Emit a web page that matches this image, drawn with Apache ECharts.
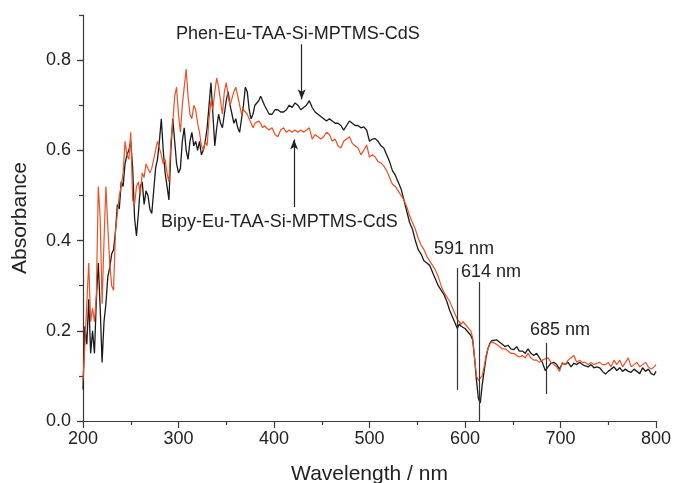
<!DOCTYPE html>
<html>
<head>
<meta charset="utf-8">
<script src="https://cdn.jsdelivr.net/npm/echarts@6/dist/echarts.min.js"></script>
<style>
html,body{margin:0;padding:0;background:#fff;}
#c{width:674px;height:483px;}
</style>
</head>
<body>
<div id="c"></div>
<script>
// Wavelength (nm)
var wavelengths = [
200,202,204,206,208,210,212,214,216,218,220,222,224,226,228,230,232,234,236,238,
240,242,244,246,248,250,252,254,256,258,260,262,264,266,268,270,272,274,276,278,
280,282,284,286,288,290,292,294,296,298,300,302,304,306,308,310,312,314,316,318,
320,322,324,326,328,330,332,334,336,338,340,342,344,346,348,350,352,354,356,358,
360,362,364,366,368,370,372,374,376,378,380,382,384,386,388,390,392,395,398,401,
404,407,410,413,416,419,422,425,428,431,434,437,440,443,446,449,452,455,458,461,
464,467,470,473,476,479,482,485,488,491,494,497,500,503,506,509,512,515,518,521,
524,527,530,533,536,539,542,545,548,551,554,557,560,563,566,569,572,575,578,581,
584,587,590,592,594,596,598,600,602,604,606,608,610,612,614,616,618,620,622,624,
626,628,630,633,636,639,642,645,648,651,654,657,660,663,666,669,672,675,678,681,
684,687,690,693,696,699,702,705,708,711,714,717,720,723,726,729,732,735,738,741,
744,747,750,753,756,759,762,765,768,771,774,777,780,783,786,789,792,795,798,800];

// Phen-Eu-TAA-Si-MPTMS-CdS (black)
var phen = [
0.07,0.21,0.17,0.27,0.15,0.20,0.15,0.27,0.35,0.25,0.13,0.22,0.26,0.32,0.34,0.37,0.38,0.42,0.48,0.47,
0.53,0.52,0.57,0.59,0.60,0.62,0.56,0.45,0.41,0.46,0.52,0.53,0.48,0.51,0.50,0.47,0.46,0.46,0.56,0.58,
0.62,0.67,0.60,0.55,0.52,0.49,0.60,0.67,0.62,0.57,0.55,0.56,0.62,0.65,0.60,0.58,0.62,0.64,0.61,0.62,
0.60,0.62,0.59,0.60,0.62,0.65,0.70,0.75,0.68,0.61,0.65,0.68,0.66,0.65,0.68,0.71,0.73,0.70,0.68,0.66,
0.67,0.65,0.64,0.67,0.70,0.74,0.73,0.69,0.67,0.68,0.70,0.70,0.71,0.72,0.71,0.70,0.70,0.68,0.68,0.69,
0.69,0.685,0.685,0.69,0.70,0.695,0.705,0.70,0.69,0.695,0.70,0.71,0.695,0.685,0.68,0.675,0.67,0.665,0.67,0.665,
0.66,0.66,0.655,0.645,0.655,0.665,0.66,0.655,0.655,0.65,0.652,0.645,0.62,0.625,0.626,0.62,0.61,0.605,0.59,0.575,
0.555,0.545,0.53,0.515,0.49,0.465,0.44,0.425,0.40,0.38,0.37,0.355,0.35,0.345,0.33,0.315,0.30,0.29,0.28,0.265,
0.245,0.23,0.215,0.205,0.215,0.21,0.21,0.205,0.20,0.198,0.19,0.18,0.14,0.09,0.05,0.04,0.08,0.11,0.14,0.16,
0.172,0.178,0.18,0.18,0.175,0.17,0.165,0.168,0.16,0.158,0.165,0.155,0.155,0.15,0.16,0.15,0.145,0.15,0.14,0.13,
0.112,0.12,0.128,0.13,0.125,0.115,0.128,0.125,0.13,0.12,0.128,0.125,0.13,0.125,0.122,0.12,0.125,0.118,0.12,0.118,
0.11,0.104,0.11,0.115,0.12,0.112,0.118,0.11,0.115,0.11,0.108,0.115,0.11,0.105,0.118,0.11,0.115,0.105,0.102,0.11];

// Bipy-Eu-TAA-Si-MPTMS-CdS (orange)
var bipy = [
0.09,0.17,0.26,0.35,0.22,0.25,0.22,0.28,0.52,0.45,0.26,0.40,0.52,0.43,0.35,0.30,0.29,0.42,0.46,0.50,
0.52,0.55,0.62,0.59,0.58,0.64,0.49,0.48,0.52,0.53,0.50,0.55,0.54,0.57,0.57,0.55,0.56,0.58,0.60,0.62,
0.62,0.59,0.57,0.58,0.55,0.53,0.62,0.66,0.72,0.74,0.68,0.64,0.70,0.74,0.78,0.72,0.68,0.67,0.70,0.69,
0.66,0.64,0.61,0.60,0.62,0.61,0.67,0.71,0.69,0.73,0.76,0.74,0.71,0.68,0.73,0.75,0.72,0.70,0.70,0.73,
0.74,0.72,0.70,0.68,0.69,0.69,0.68,0.67,0.66,0.65,0.66,0.66,0.665,0.66,0.65,0.655,0.65,0.645,0.65,0.635,
0.63,0.645,0.65,0.64,0.645,0.64,0.645,0.64,0.645,0.64,0.645,0.65,0.625,0.635,0.63,0.625,0.63,0.64,0.635,0.62,
0.625,0.61,0.605,0.62,0.625,0.63,0.615,0.61,0.605,0.59,0.60,0.612,0.585,0.59,0.585,0.575,0.572,0.565,0.555,0.54,
0.525,0.52,0.51,0.50,0.49,0.475,0.455,0.44,0.425,0.405,0.39,0.38,0.365,0.355,0.345,0.335,0.32,0.30,0.285,0.275,
0.265,0.25,0.235,0.225,0.22,0.215,0.22,0.215,0.21,0.205,0.20,0.185,0.14,0.10,0.09,0.09,0.10,0.12,0.145,0.16,
0.17,0.176,0.175,0.17,0.165,0.16,0.16,0.155,0.15,0.15,0.145,0.142,0.145,0.14,0.15,0.14,0.135,0.135,0.13,0.135,
0.138,0.14,0.13,0.125,0.12,0.11,0.13,0.125,0.135,0.14,0.145,0.13,0.135,0.13,0.13,0.125,0.13,0.125,0.128,0.13,
0.125,0.125,0.13,0.12,0.135,0.125,0.135,0.12,0.13,0.14,0.12,0.125,0.13,0.12,0.125,0.13,0.12,0.115,0.12,0.125];

var xTicks = [200, 300, 400, 500, 600, 700, 800];
var yTicks = [0.0, 0.2, 0.4, 0.6, 0.8];

var phenData = wavelengths.map(function (w, i) { return [w, phen[i]]; });
var bipyData = wavelengths.map(function (w, i) { return [w, bipy[i]]; });

var FONT = '"Liberation Sans", Arial, Helvetica, sans-serif';
var TXT = '#222';
var AX = '#3a3a3a';

var chart = echarts.init(document.getElementById('c'), null, {renderer: 'canvas'});

var option = {
  animation: false,
  backgroundColor: '#fff',
  grid: {left: 83, right: 18, top: 15, bottom: 62, containLabel: false, outerBoundsMode: 'none'},
  xAxis: {
    type: 'value',
    min: 200, max: 800, interval: 100,
    name: 'Wavelength / nm',
    nameLocation: 'middle',
    nameGap: 43,
    nameTextStyle: {fontFamily: FONT, fontSize: 21, color: TXT},
    axisLine: {show: true, onZero: false, lineStyle: {color: AX, width: 1.2}},
    axisTick: {show: true, inside: false, length: 7, lineStyle: {color: AX, width: 1.2}},
    minorTick: {show: true, splitNumber: 2, length: 4, lineStyle: {color: AX, width: 1.2}},
    axisLabel: {fontFamily: FONT, fontSize: 18, color: TXT, margin: 9},
    splitLine: {show: false}
  },
  yAxis: [{
    type: 'value',
    min: 0, max: 0.9, interval: 0.2,
    name: 'Absorbance',
    nameLocation: 'middle',
    nameGap: 52,
    nameRotate: 90,
    nameTextStyle: {fontFamily: FONT, fontSize: 21, color: TXT},
    axisLine: {show: true, onZero: false, lineStyle: {color: AX, width: 1.2}},
    axisTick: {show: true, inside: false, length: 6, lineStyle: {color: AX, width: 1.2}},
    axisLabel: {fontFamily: FONT, fontSize: 18, color: TXT, margin: 12, showMaxLabel: false,
      formatter: function (v) { return yTicks.some(function (t) { return Math.abs(t - v) < 1e-9; }) ? v.toFixed(1) : ''; }},
    splitLine: {show: false}
  }, {
    type: 'value',
    position: 'left',
    min: 0, max: 0.9, interval: 0.1,
    axisLine: {show: false},
    axisTick: {show: true, inside: false, length: 4, lineStyle: {color: AX, width: 1.2}},
    axisLabel: {show: false},
    splitLine: {show: false}
  }],
  series: [{
    name: 'Phen-Eu-TAA-Si-MPTMS-CdS',
    type: 'line',
    data: phenData,
    showSymbol: false,
    symbol: 'none',
    lineStyle: {color: '#1a1a1a', width: 1.3},
    z: 2,
    markLine: {
      silent: true,
      symbol: ['none', 'arrow'],
      symbolSize: [6, 10],
      label: {show: false},
      lineStyle: {color: '#222', width: 1.2, type: 'solid'},
      data: [
        [{coord: [429, 0.835]}, {coord: [429, 0.713]}],
        [{coord: [421, 0.474]}, {coord: [421, 0.624]}]
      ]
    }
  }, {
    name: 'Bipy-Eu-TAA-Si-MPTMS-CdS',
    type: 'line',
    data: bipyData,
    showSymbol: false,
    symbol: 'none',
    lineStyle: {color: '#ef4f22', width: 1.2},
    z: 3,
    markLine: {
      silent: true,
      symbol: ['none', 'none'],
      label: {show: false},
      lineStyle: {color: '#333', width: 1.2, type: 'solid'},
      data: [
        [{coord: [592, 0.339]}, {coord: [592, 0.069]}],
        [{coord: [615, 0.308]}, {coord: [615, 0.0]}],
        [{coord: [684.6, 0.173]}, {coord: [684.6, 0.06]}]
      ]
    }
  }],
  graphic: [
    {type: 'text', left: 176, top: 25, style: {text: 'Phen-Eu-TAA-Si-MPTMS-CdS', font: '18px ' + FONT, fill: TXT}},
    {type: 'text', left: 161, top: 213, style: {text: 'Bipy-Eu-TAA-Si-MPTMS-CdS', font: '18px ' + FONT, fill: TXT}},
    {type: 'text', left: 434, top: 240, style: {text: '591 nm', font: '18px ' + FONT, fill: TXT}},
    {type: 'text', left: 461, top: 263, style: {text: '614 nm', font: '18px ' + FONT, fill: TXT}},
    {type: 'text', left: 530, top: 321, style: {text: '685 nm', font: '18px ' + FONT, fill: TXT}}
  ]
};
chart.setOption(option);
</script>
</body>
</html>
